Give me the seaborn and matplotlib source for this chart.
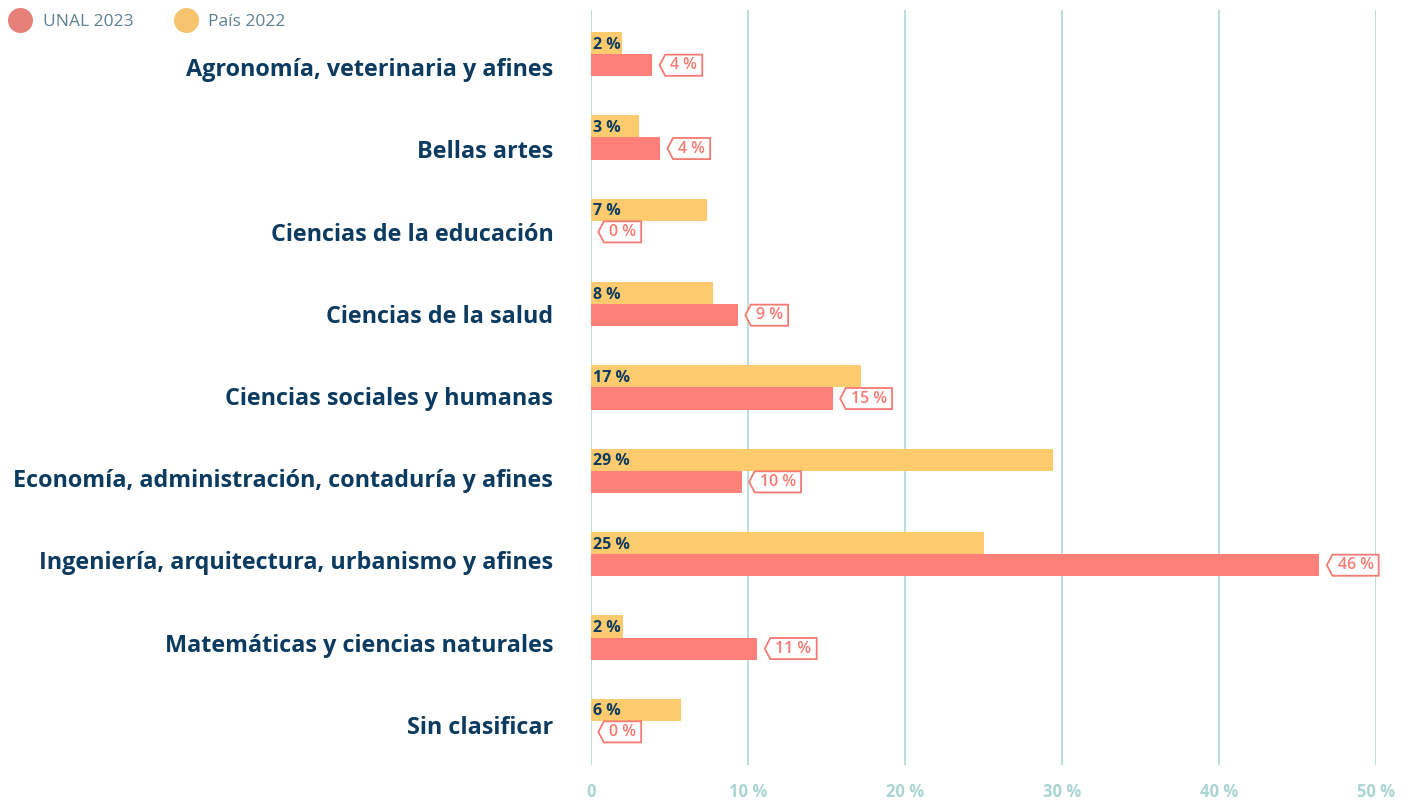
import pandas as pd
import numpy as np
import seaborn as sns
import matplotlib.pyplot as plt
from matplotlib.path import Path
from matplotlib.lines import Line2D

# Datos
areas = [
    "Agronomía, veterinaria y afines",
    "Bellas artes",
    "Ciencias de la educación",
    "Ciencias de la salud",
    "Ciencias sociales y humanas",
    "Economía, administración, contaduría y afines",
    "Ingeniería, arquitectura, urbanismo y afines",
    "Matemáticas y ciencias naturales",
    "Sin clasificar",
]
pais_2022 = [1.95, 3.06, 7.4, 7.75, 17.2, 29.4, 25.0, 2.05, 5.75]
unal_2023 = [3.9, 4.4, 0.0, 9.36, 15.4, 9.6, 46.4, 10.6, 0.0]
pais_labels = ["2 %", "3 %", "7 %", "8 %", "17 %", "29 %", "25 %", "2 %", "6 %"]
unal_labels = ["4 %", "4 %", "0 %", "9 %", "15 %", "10 %", "46 %", "11 %", "0 %"]
x_ticks = [0, 10, 20, 30, 40, 50]
x_ticklabels = ["0", "10 %", "20 %", "30 %", "40 %", "50 %"]

series = ["País 2022", "UNAL 2023"]
colors = {"País 2022": "#ffcb6e", "UNAL 2023": "#ff8078"}
navy = "#0b3b60"
salmon = "#f47a72"
teal = "#b6dcd9"

df = pd.DataFrame({
    "area": areas * 2,
    "valor": pais_2022 + unal_2023,
    "serie": ["País 2022"] * len(areas) + ["UNAL 2023"] * len(areas),
})

sns.set_theme(style="white")
plt.rcParams["font.family"] = ["Open Sans", "DejaVu Sans"]

fig = plt.figure(figsize=(14.11, 8), dpi=100)
ax = fig.add_axes([591 / 1411, 35 / 800, 785 / 1411, 755 / 800])

sns.barplot(data=df, y="area", x="valor", hue="serie", hue_order=series,
            palette=colors, width=0.53, orient="h", ax=ax, legend=False,
            saturation=1, edgecolor="none", linewidth=0)

ax.set_xlim(0, 50)
ax.set_ylim(len(areas) - 1 + 0.53, -0.53)
ax.set_xticks(x_ticks)
ax.set_xticklabels(x_ticklabels, color="#a9d5d2", fontsize=12, fontweight="bold")
ax.tick_params(axis="x", length=0, pad=13)
ax.set_yticks([])
ax.set_xlabel("")
ax.set_ylabel("")
for s in ax.spines.values():
    s.set_visible(False)
for t in x_ticks:
    ax.axvline(t, color=teal, lw=1.3, zorder=0)


def tag(x0, y0, width, height, mutation_size):
    # caja tipo etiqueta con punta a la izquierda
    pad = 0.32 * mutation_size
    notch = 0.35 * mutation_size
    x0 -= pad
    x1 = x0 + width + 2 * pad
    y0 -= 0.16 * mutation_size
    y1 = y0 + height + 0.32 * mutation_size
    verts = [(x0, y0), (x1, y0), (x1, y1), (x0, y1),
             (x0 - notch, (y0 + y1) / 2), (x0, y0), (x0, y0)]
    codes = [Path.MOVETO] + [Path.LINETO] * 5 + [Path.CLOSEPOLY]
    return Path(verts, codes)


pais_bars = ax.containers[0]
unal_bars = ax.containers[1]

for bar, lab in zip(pais_bars, pais_labels):
    y = bar.get_y() + bar.get_height() / 2
    ax.annotate(lab, xy=(0, y), xytext=(1.5, -1), textcoords="offset points",
                ha="left", va="center", fontsize=11.5, fontweight="bold", color=navy)

for bar, lab in zip(unal_bars, unal_labels):
    y = bar.get_y() + bar.get_height() / 2
    ax.annotate(lab, xy=(bar.get_width(), y), xytext=(13, 0),
                textcoords="offset points", ha="left", va="center",
                fontsize=11.5, fontweight="semibold", color=salmon,
                bbox=dict(boxstyle=tag, fc="white", ec=salmon, lw=1.3))

for i, area in enumerate(areas):
    ax.text(-0.048, i + 0.192 - 0.0135 * i, area, transform=ax.get_yaxis_transform(),
            ha="right", va="center", fontsize=16.8, fontweight="bold", color=navy)

handles = [Line2D([], [], marker="o", ls="", markersize=17, color="#e8807a"),
           Line2D([], [], marker="o", ls="", markersize=17, color="#f6c46e")]
fig.legend(handles, ["UNAL 2023", "País 2022"], loc="upper left",
           bbox_to_anchor=(-0.009, 1.002), ncol=2, frameon=False, fontsize=12.5,
           labelcolor="#5f7f92", handletextpad=0.3, columnspacing=2.0)

fig.savefig("out.png", dpi=100)
